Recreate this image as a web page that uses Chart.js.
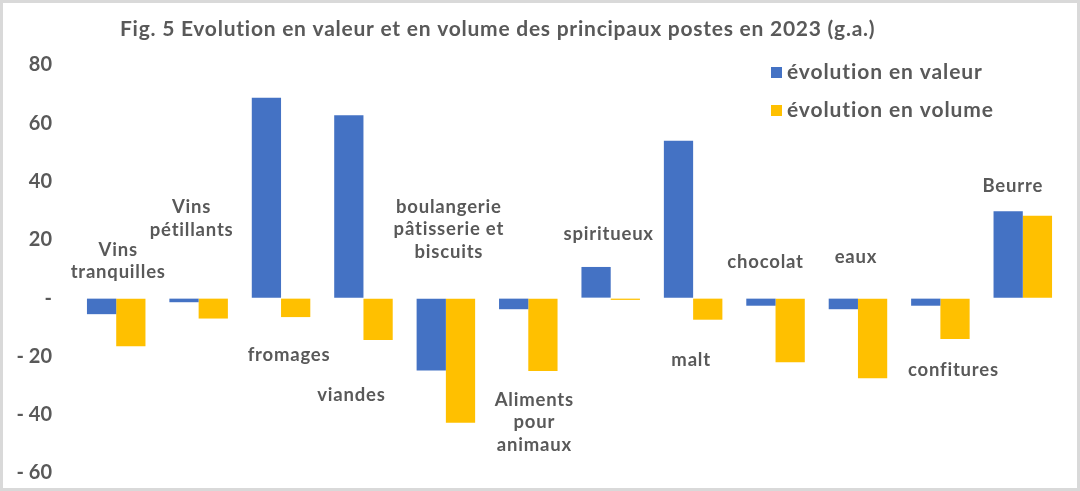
<!DOCTYPE html>
<html>
<head>
<meta charset="utf-8">
<script src="https://cdn.jsdelivr.net/npm/chart.js@4.4.0/dist/chart.umd.min.js"></script>
<style>
  body { margin: 0; background: #fff; }
  #wrap { width: 1080px; height: 491px; }
</style>
</head>
<body>
<div id="wrap"><canvas id="myChart" width="1080" height="491"></canvas></div>
<script>
// categories (lines of the label shown next to each group)
var categories = [
  ["Vins", "tranquilles"],
  ["Vins", "pétillants"],
  ["fromages"],
  ["viandes"],
  ["boulangerie", "pâtisserie et", "biscuits"],
  ["Aliments", "pour", "animaux"],
  ["spiritueux"],
  ["malt"],
  ["chocolat"],
  ["eaux"],
  ["confitures"],
  ["Beurre"]
];
var valeur = [-5.5, -1.4, 68.8, 62.8, -24.8, -3.8, 10.7, 54.0, -2.6, -3.8, -2.6, 29.8];
var volume = [-16.5, -7.0, -6.5, -14.4, -42.8, -25.0, -0.6, -7.4, -22.0, -27.5, -14.0, 28.3];
var yTicks = [80, 60, 40, 20, 0, -20, -40, -60];

// where each category label sits (value on the y axis, and a small sideways nudge)
var labelAt = [12.7, 27.3, -19.6, -33.3, 23.7, -42.6, 22.0, -21.3, 12.4, 14.0, -24.7, 38.4];
var labelNudge = [2, -7, 8, -12, 3, 6, -2, -2, -10, -2, 13, -10];

var grey = '#595959';
var font = 'Lato, "Open Sans", sans-serif';

var extras = {
  id: 'extras',
  beforeDraw: function(chart) {
    var c = chart.ctx;
    c.save();
    c.fillStyle = '#fff';
    c.fillRect(0, 0, chart.width, chart.height);
    c.strokeStyle = '#d9d9d9';
    c.lineWidth = 3;
    c.strokeRect(1.5, 1.5, chart.width - 3, chart.height - 3);
    c.restore();
  },
  afterDraw: function(chart) {
    var c = chart.ctx;
    var xs = chart.scales.x, ys = chart.scales.y;
    c.save();
    // title
    c.fillStyle = grey;
    c.font = 'bold 21px ' + font;
    c.letterSpacing = '0.75px';
    c.textAlign = 'left';
    c.textBaseline = 'middle';
    c.fillText('Fig. 5 Evolution en valeur et en volume des principaux postes en 2023 (g.a.)', 120, 29);

    // category labels
    c.font = 'bold 18.5px ' + font;
    c.letterSpacing = '0.8px';
    c.textAlign = 'center';
    categories.forEach(function(lines, i) {
      var x = xs.getPixelForValue(i) + labelNudge[i];
      var yc = ys.getPixelForValue(labelAt[i]);
      var lh = 22.5;
      var y0 = yc - (lines.length - 1) * lh / 2;
      lines.forEach(function(t, k) {
        c.fillText(t, x, y0 + k * lh);
      });
    });

    // legend
    c.font = 'bold 21px ' + font;
    c.letterSpacing = '0.9px';
    c.textAlign = 'left';
    chart.data.datasets.forEach(function(ds, i) {
      var y = 72 + i * 38;
      c.fillStyle = ds.backgroundColor;
      c.fillRect(771, y - 5, 11, 11);
      c.fillStyle = grey;
      c.fillText(ds.label, 787, y);
    });
    c.restore();
  }
};

var ctx = document.getElementById('myChart').getContext('2d');
var chart = new Chart(ctx, {
  type: 'bar',
  data: {
    labels: categories.map(function(l) { return l.join(' '); }),
    datasets: [{
      label: 'évolution en valeur',
      backgroundColor: '#4472C4',
      data: valeur
    }, {
      label: 'évolution en volume',
      backgroundColor: '#FFC000',
      data: volume
    }]
  },
  options: {
    responsive: false,
    animation: false,
    layout: { padding: { left: 0, right: 16, top: 65, bottom: 18 } },
    plugins: {
      legend: { display: false },
      title: { display: false },
      tooltip: { enabled: false }
    },
    datasets: {
      bar: { categoryPercentage: 0.71, barPercentage: 1.0 }
    },
    scales: {
      x: { display: false },
      y: {
        min: -60,
        max: 80,
        afterBuildTicks: function(s) {
          s.ticks = yTicks.map(function(v) { return { value: v }; });
        },
        afterFit: function(s) { s.width = 75; },
        grid: {
          display: true,
          drawOnChartArea: false,
          drawTicks: true,
          tickLength: 23,
          tickColor: 'transparent'
        },
        border: { display: false },
        ticks: {
          padding: 0,
          color: grey,
          font: { family: font, size: 20, weight: 'bold' },
          callback: function(v) {
            if (v === 0) return '-';
            return v < 0 ? '- ' + Math.abs(v) : String(v);
          }
        }
      }
    }
  },
  plugins: [extras]
});
</script>
</body>
</html>
